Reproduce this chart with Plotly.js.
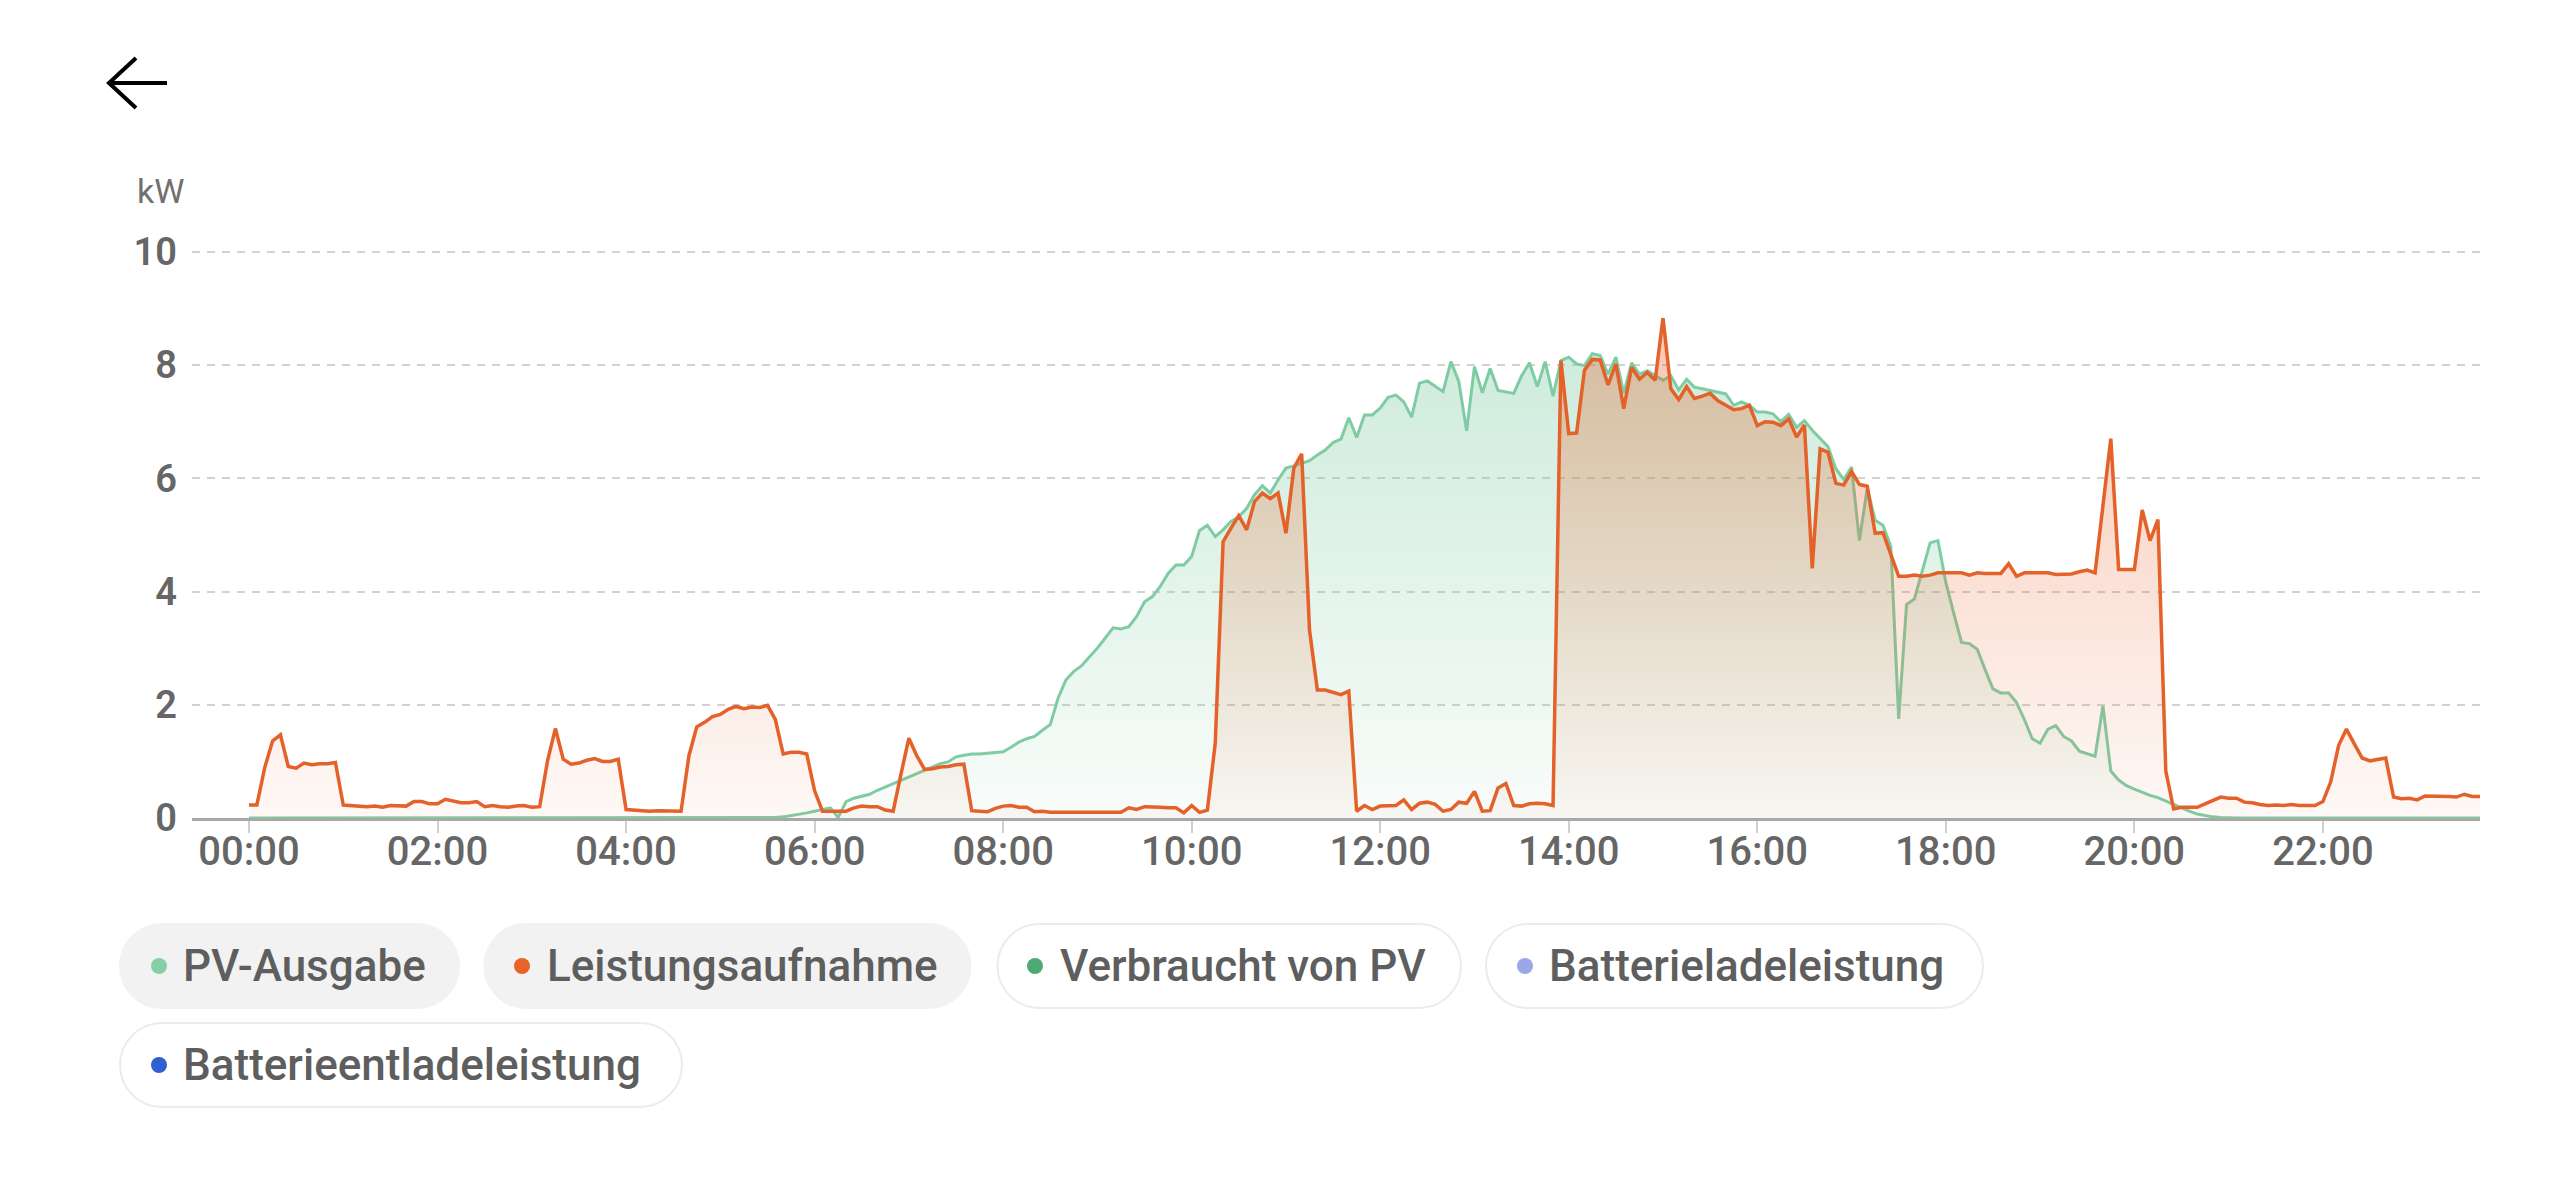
<!DOCTYPE html>
<html>
<head>
<meta charset="utf-8">
<script src="https://cdn.plot.ly/plotly-3.0.1.min.js"></script>
<style>
  html, body { margin: 0; padding: 0; background: #ffffff; }
  #chart { width: 2556px; height: 1179px; }
</style>
</head>
<body>
<div id="chart"></div>
<script>
// ---------- DATA (5-minute readings, 00:00 .. 23:40) ----------
const dayStart = '2024-06-01';
const intervalMinutes = 5;

// PV-Ausgabe (kW)
const pvOutput = [
  0,0,0,0,0,0,0,0,0,0,0,0,0,0,0,0,0,0,0,0,0,0,0,0,
  0,0,0,0,0,0,0,0,0,0,0,0,0,0,0,0,0,0,0,0,0,0,0,0,
  0,0,0,0,0,0,0,0,0,0,0,0,0,0,0,0,0,0,0.005,0.01,0.02,0.04,0.06,0.09,
  0.12,0.15,0.18,0.01,0.29,0.35,0.39,0.42,0.49,0.55,0.61,0.67,0.73,0.78,0.84,0.90,0.96,0.99,1.08,1.11,1.13,1.13,1.14,1.15,
  1.17,1.25,1.34,1.40,1.44,1.55,1.65,2.12,2.44,2.59,2.69,2.85,3.00,3.18,3.36,3.34,3.38,3.56,3.82,3.91,4.09,4.32,4.47,4.47,
  4.62,5.08,5.17,4.97,5.09,5.24,5.32,5.47,5.71,5.87,5.74,5.97,6.18,6.22,6.26,6.31,6.41,6.50,6.63,6.69,7.07,6.72,7.12,7.12,
  7.24,7.43,7.47,7.35,7.08,7.68,7.72,7.62,7.53,8.06,7.71,6.84,7.97,7.51,7.94,7.55,7.53,7.50,7.81,8.04,7.62,8.06,7.45,8.08,
  8.14,8.02,7.99,8.20,8.17,7.84,8.14,7.50,8.04,7.84,7.90,7.81,7.73,7.81,7.56,7.75,7.61,7.58,7.55,7.51,7.49,7.29,7.35,7.29,
  7.17,7.17,7.14,7.00,7.13,6.90,7.02,6.85,6.70,6.56,6.17,5.98,6.20,4.90,5.83,5.26,5.17,4.80,1.75,3.77,3.87,4.35,4.86,4.90,
  4.16,3.62,3.10,3.08,2.98,2.62,2.28,2.21,2.21,2.04,1.74,1.40,1.32,1.57,1.63,1.44,1.36,1.18,1.13,1.09,1.98,0.83,0.67,0.57,
  0.51,0.45,0.40,0.36,0.30,0.24,0.17,0.12,0.07,0.04,0.02,0.01,0,0,0,0,0,0,0,0,0,0,0,0,
  0,0,0,0,0,0,0,0,0,0,0,0,0,0,0,0,0,0,0,0,0
];

// Leistungsaufnahme (kW)
const powerConsumption = [
  0.23,0.23,0.89,1.36,1.47,0.91,0.88,0.97,0.94,0.96,0.96,0.98,0.23,0.22,0.20,0.20,0.21,0.19,0.22,0.22,0.21,0.29,0.29,0.25,
  0.25,0.33,0.30,0.27,0.27,0.29,0.20,0.22,0.20,0.19,0.21,0.22,0.19,0.20,1.01,1.58,1.04,0.95,0.97,1.02,1.05,1.00,1.00,1.04,
  0.15,0.14,0.12,0.12,0.13,0.13,0.12,0.12,1.10,1.61,1.69,1.79,1.83,1.92,1.97,1.93,1.96,1.95,1.99,1.74,1.13,1.16,1.16,1.13,
  0.48,0.12,0.12,0.12,0.12,0.18,0.21,0.20,0.20,0.14,0.12,0.78,1.41,1.10,0.86,0.87,0.90,0.91,0.94,0.95,0.13,0.12,0.11,0.17,
  0.21,0.22,0.19,0.19,0.11,0.12,0.10,0.10,0.10,0.10,0.11,0.10,0.10,0.10,0.10,0.10,0.18,0.15,0.20,0.20,0.19,0.18,0.18,0.09,
  0.22,0.10,0.14,1.32,4.88,5.12,5.34,5.09,5.59,5.74,5.64,5.74,5.03,6.18,6.43,3.32,2.26,2.26,2.22,2.18,2.24,0.12,0.22,0.15,
  0.21,0.21,0.22,0.32,0.15,0.26,0.28,0.24,0.12,0.15,0.28,0.26,0.47,0.12,0.13,0.53,0.61,0.22,0.21,0.25,0.26,0.25,0.22,8.08,
  6.79,6.80,7.91,8.10,8.09,7.65,8.02,7.23,7.96,7.75,7.87,7.73,8.83,7.58,7.39,7.62,7.41,7.45,7.50,7.37,7.29,7.21,7.23,7.29,
  6.93,7.00,6.99,6.93,7.05,6.73,6.94,4.41,6.52,6.46,5.91,5.88,6.12,5.89,5.86,5.03,5.04,4.65,4.27,4.27,4.29,4.27,4.29,4.33,
  4.33,4.32,4.33,4.29,4.33,4.32,4.32,4.32,4.49,4.27,4.33,4.33,4.32,4.33,4.30,4.31,4.31,4.35,4.38,4.33,5.50,6.70,4.39,4.39,
  4.39,5.44,4.90,5.27,0.83,0.16,0.19,0.19,0.19,0.25,0.31,0.37,0.35,0.35,0.28,0.27,0.24,0.22,0.23,0.22,0.24,0.22,0.22,0.22,
  0.29,0.64,1.28,1.57,1.31,1.06,1.01,1.04,1.06,0.37,0.34,0.35,0.32,0.39,0.39,0.38,0.38,0.37,0.42,0.38,0.38
];

const yTickValues = [0, 2, 4, 6, 8, 10];
const yTickLabels = ['0', '2', '4', '6', '8', '10'];
const unitLabel = 'kW';

const legendNames  = ['PV-Ausgabe', 'Leistungsaufnahme', 'Verbraucht von PV', 'Batterieladeleistung', 'Batterieentladeleistung'];
const legendColors = ['#86cfa6', '#e8622a', '#4caa72', '#9aa8e8', '#2f5fd0'];
const legendActive = [true, true, false, false, false];

// ---------- time axis (regular 5-minute grid) ----------
function pad(n) { return (n < 10 ? '0' : '') + n; }
const times = pvOutput.map((_, i) => {
  const m = i * intervalMinutes;
  return dayStart + ' ' + pad(Math.floor(m / 60)) + ':' + pad(m % 60) + ':00';
});

// ---------- geometry helpers (page pixels -> paper) ----------
const W = 2556, H = 1179;
const M = { l: 192, r: 76, t: 249, b: 361 };
const PW = W - M.l - M.r, PH = H - M.t - M.b;
const px = x => (x - M.l) / PW;
const py = y => (H - M.b - y) / PH;

function pillPath(w, h) {
  const r = h / 2, k = 0.5523 * r, a = w / 2 - r;
  return `M ${-a} ${-r} L ${a} ${-r} C ${a + k} ${-r} ${w / 2} ${-k} ${w / 2} 0 ` +
         `C ${w / 2} ${k} ${a + k} ${r} ${a} ${r} L ${-a} ${r} ` +
         `C ${-a - k} ${r} ${-w / 2} ${k} ${-w / 2} 0 C ${-w / 2} ${-k} ${-a - k} ${-r} ${-a} ${-r} Z`;
}

// legend pill placement (page pixels)
const pillBoxes = [
  { x1: 120,   x2: 459,  cy: 966,  dot: 159,  text: 181 },
  { x1: 484.5, x2: 970.5, cy: 966, dot: 522,  text: 544.5 },
  { x1: 997.5, x2: 1461, cy: 966,  dot: 1035, text: 1057.5 },
  { x1: 1486,  x2: 1983, cy: 966,  dot: 1525, text: 1547 },
  { x1: 120,   x2: 682,  cy: 1065, dot: 159,  text: 181 }
];

const shapes = [];
const annotations = [];

// back arrow
shapes.push({
  type: 'path', xref: 'paper', yref: 'paper',
  path: `M ${px(167)} ${py(83)} L ${px(109)} ${py(83)} M ${px(136)} ${py(58)} L ${px(109)} ${py(83)} L ${px(136)} ${py(108)}`,
  line: { color: '#000000', width: 4 }
});

legendNames.forEach((name, i) => {
  const b = pillBoxes[i];
  const cx = (b.x1 + b.x2) / 2;
  shapes.push({
    type: 'path', xref: 'paper', yref: 'paper',
    xsizemode: 'pixel', ysizemode: 'pixel',
    xanchor: px(cx), yanchor: py(b.cy),
    path: pillPath(b.x2 - b.x1, 84),
    fillcolor: legendActive[i] ? '#f2f2f2' : '#ffffff',
    line: { color: legendActive[i] ? '#f2f2f2' : '#ececec', width: 2 }
  });
  shapes.push({
    type: 'circle', xref: 'paper', yref: 'paper',
    xsizemode: 'pixel', ysizemode: 'pixel',
    xanchor: px(b.dot), yanchor: py(b.cy),
    x0: -8, x1: 8, y0: -8, y1: 8,
    fillcolor: legendColors[i], line: { width: 0 }
  });
  annotations.push({
    xref: 'paper', yref: 'paper', x: px(b.text), y: py(b.cy),
    xanchor: 'left', yanchor: 'middle', showarrow: false,
    text: name,
    font: { family: 'Roboto, sans-serif', size: 44, color: '#5e5e5e', weight: 500 }
  });
});

annotations.push({
  xref: 'paper', yref: 'paper', x: px(135), y: py(191),
  xanchor: 'left', yanchor: 'middle', showarrow: false,
  text: unitLabel,
  font: { family: 'Roboto, sans-serif', size: 34, color: '#707070' }
});

const traces = [
  {
    type: 'scatter', mode: 'lines', name: legendNames[0],
    x: times, y: pvOutput,
    line: { color: '#7fcca3', width: 3 },
    fill: 'tozeroy',
    fillgradient: {
      type: 'vertical', start: 0, stop: 8.2,
      colorscale: [[0, 'rgba(127,204,163,0.05)'], [1, 'rgba(127,204,163,0.38)']]
    },
    hoverinfo: 'skip'
  },
  {
    type: 'scatter', mode: 'lines', name: legendNames[1],
    x: times, y: powerConsumption,
    line: { color: '#e4612a', width: 3.5 },
    fill: 'tozeroy',
    fillgradient: {
      type: 'vertical', start: 0, stop: 8.83,
      colorscale: [[0, 'rgba(232,98,42,0.04)'], [1, 'rgba(232,98,42,0.36)']]
    },
    hoverinfo: 'skip'
  }
];

const layout = {
  width: W, height: H,
  margin: M,
  paper_bgcolor: '#ffffff', plot_bgcolor: '#ffffff',
  showlegend: false,
  font: { family: 'Roboto, sans-serif', color: '#666666' },
  xaxis: {
    type: 'date',
    range: ['2024-05-31 23:23:43', '2024-06-01 23:40:00'],
    tick0: '2024-06-01 00:00:00', dtick: 7200000, tickformat: '%H:%M',
    showgrid: false, zeroline: false,
    showline: true, linecolor: '#a8a8a8', linewidth: 2.5,
    ticks: 'outside', ticklen: 12, tickwidth: 2, tickcolor: '#cfcfcf',
    ticklabelstandoff: -16,
    tickfont: { family: 'Roboto, sans-serif', size: 40, color: '#666666', weight: 500 },
    fixedrange: true
  },
  yaxis: {
    range: [0, 10.05],
    tickmode: 'array', tickvals: yTickValues, ticktext: yTickLabels,
    showgrid: true, gridcolor: '#d2d2d2', gridwidth: 2, griddash: '8px,7px',
    zeroline: false, showline: false, ticks: '',
    ticklabelstandoff: 14,
    tickfont: { family: 'Roboto, sans-serif', size: 38, color: '#666666', weight: 600 },
    fixedrange: true
  },
  shapes: shapes,
  annotations: annotations
};

Plotly.newPlot('chart', traces, layout, { displayModeBar: false, staticPlot: true });
</script>
</body>
</html>
